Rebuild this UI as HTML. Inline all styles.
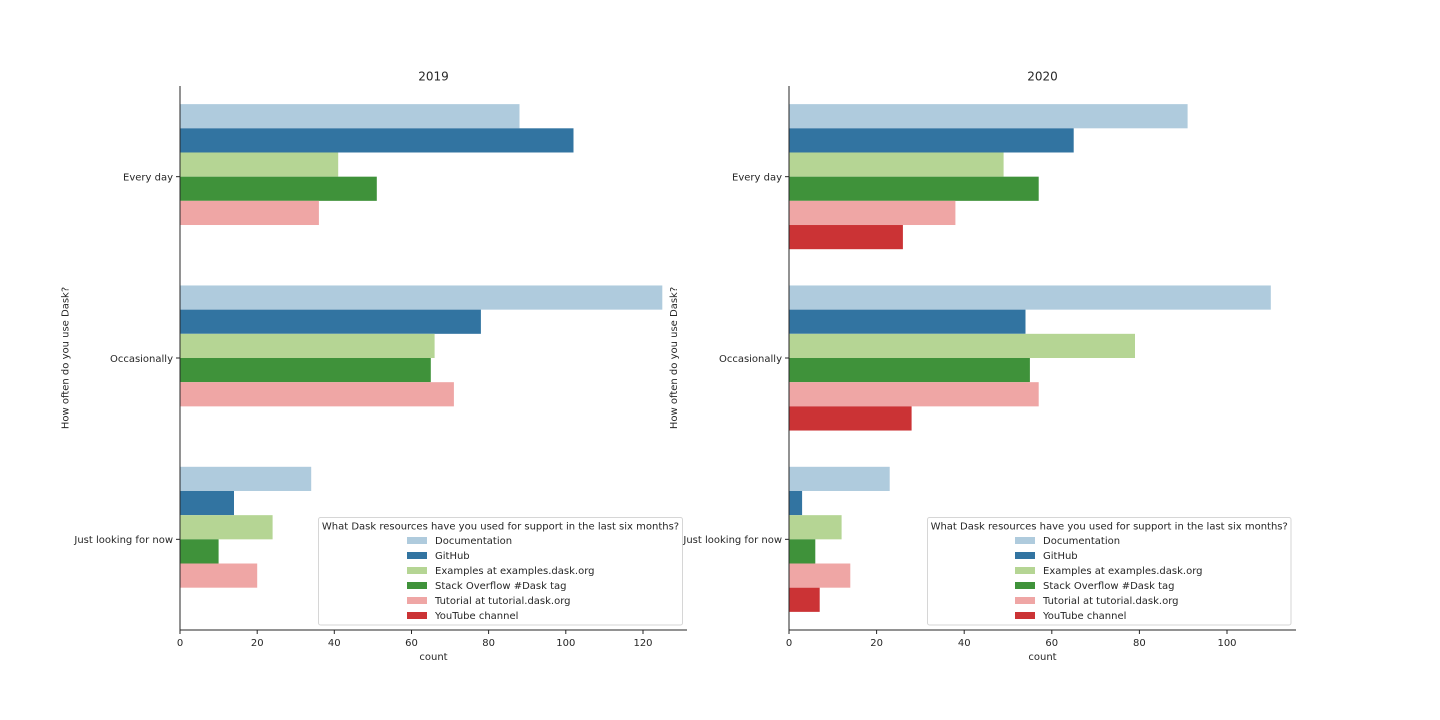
<!DOCTYPE html>
<html><head><meta charset="utf-8"><style>
html,body{margin:0;padding:0;background:#fff;}
svg{display:block;}
text{font-family:"DejaVu Sans","Liberation Sans",sans-serif;fill:#262626;}
</style></head><body>
<svg width="1440" height="720" viewBox="0 0 1440 720" xmlns="http://www.w3.org/2000/svg">
<rect width="1440" height="720" fill="#fff"/>
<!-- LEFT 2019 -->
<g>
<rect x="180" y="104.13" width="339.5" height="24.18" fill="#afcbdd"/>
<rect x="180" y="128.31" width="393.5" height="24.18" fill="#3274a1"/>
<rect x="180" y="152.49" width="158.2" height="24.18" fill="#b5d594"/>
<rect x="180" y="176.67" width="196.8" height="24.18" fill="#3f923a"/>
<rect x="180" y="200.84" width="138.9" height="24.18" fill="#efa6a5"/>

<rect x="180" y="285.47" width="482.3" height="24.18" fill="#afcbdd"/>
<rect x="180" y="309.64" width="300.9" height="24.18" fill="#3274a1"/>
<rect x="180" y="333.82" width="254.6" height="24.18" fill="#b5d594"/>
<rect x="180" y="358.00" width="250.8" height="24.18" fill="#3f923a"/>
<rect x="180" y="382.18" width="273.9" height="24.18" fill="#efa6a5"/>

<rect x="180" y="466.80" width="131.2" height="24.18" fill="#afcbdd"/>
<rect x="180" y="490.98" width="54.0" height="24.18" fill="#3274a1"/>
<rect x="180" y="515.16" width="92.6" height="24.18" fill="#b5d594"/>
<rect x="180" y="539.33" width="38.6" height="24.18" fill="#3f923a"/>
<rect x="180" y="563.51" width="77.2" height="24.18" fill="#efa6a5"/>

<line x1="180" y1="86" x2="180" y2="630.5" stroke="#262626" stroke-width="1"/>
<line x1="179.5" y1="630" x2="687" y2="630" stroke="#262626" stroke-width="1"/>
<g stroke="#262626" stroke-width="1">
<line x1="180" y1="630" x2="180" y2="634"/>
<line x1="257.2" y1="630" x2="257.2" y2="634"/>
<line x1="334.3" y1="630" x2="334.3" y2="634"/>
<line x1="411.5" y1="630" x2="411.5" y2="634"/>
<line x1="488.6" y1="630" x2="488.6" y2="634"/>
<line x1="565.8" y1="630" x2="565.8" y2="634"/>
<line x1="643" y1="630" x2="643" y2="634"/>
<line x1="176" y1="176.67" x2="180" y2="176.67"/>
<line x1="176" y1="358" x2="180" y2="358"/>
<line x1="176" y1="539.33" x2="180" y2="539.33"/>
</g>
<g font-size="10" text-anchor="middle">
<text x="180" y="646">0</text>
<text x="257.2" y="646">20</text>
<text x="334.3" y="646">40</text>
<text x="411.5" y="646">60</text>
<text x="488.6" y="646">80</text>
<text x="565.8" y="646">100</text>
<text x="643" y="646">120</text>
<text x="433.5" y="660">count</text>
</g>
<g font-size="10" text-anchor="end">
<text x="173" y="180.5">Every day</text>
<text x="173" y="361.8">Occasionally</text>
<text x="173" y="543.2">Just looking for now</text>
</g>
<text x="0" y="0" font-size="10" text-anchor="middle" transform="translate(68.5,358) rotate(-90)">How often do you use Dask?</text>
<text x="433.5" y="80.5" font-size="12" text-anchor="middle">2019</text>
<rect x="318.5" y="517.5" width="364" height="107.5" rx="2" fill="#fff" fill-opacity="0.8" stroke="#d6d6d6" stroke-width="1"/>
<text x="500.5" y="529.5" font-size="10" text-anchor="middle">What Dask resources have you used for support in the last six months?</text>
<rect x="407" y="537" width="20" height="7" fill="#afcbdd"/>
<rect x="407" y="552" width="20" height="7" fill="#3274a1"/>
<rect x="407" y="567" width="20" height="7" fill="#b5d594"/>
<rect x="407" y="582" width="20" height="7" fill="#3f923a"/>
<rect x="407" y="597" width="20" height="7" fill="#efa6a5"/>
<rect x="407" y="612" width="20" height="7" fill="#cb3335"/>
<g font-size="10">
<text x="435" y="544">Documentation</text>
<text x="435" y="559">GitHub</text>
<text x="435" y="574">Examples at examples.dask.org</text>
<text x="435" y="589">Stack Overflow #Dask tag</text>
<text x="435" y="604">Tutorial at tutorial.dask.org</text>
<text x="435" y="619">YouTube channel</text>
</g>
</g>

<!-- RIGHT 2020 -->
<g>
<rect x="789" y="104.13" width="398.6" height="24.18" fill="#afcbdd"/>
<rect x="789" y="128.31" width="284.7" height="24.18" fill="#3274a1"/>
<rect x="789" y="152.49" width="214.6" height="24.18" fill="#b5d594"/>
<rect x="789" y="176.67" width="249.7" height="24.18" fill="#3f923a"/>
<rect x="789" y="200.84" width="166.4" height="24.18" fill="#efa6a5"/>
<rect x="789" y="225.02" width="113.9" height="24.18" fill="#cb3335"/>

<rect x="789" y="285.47" width="481.8" height="24.18" fill="#afcbdd"/>
<rect x="789" y="309.64" width="236.5" height="24.18" fill="#3274a1"/>
<rect x="789" y="333.82" width="346.0" height="24.18" fill="#b5d594"/>
<rect x="789" y="358.00" width="240.9" height="24.18" fill="#3f923a"/>
<rect x="789" y="382.18" width="249.7" height="24.18" fill="#efa6a5"/>
<rect x="789" y="406.36" width="122.6" height="24.18" fill="#cb3335"/>

<rect x="789" y="466.80" width="100.7" height="24.18" fill="#afcbdd"/>
<rect x="789" y="490.98" width="13.1" height="24.18" fill="#3274a1"/>
<rect x="789" y="515.16" width="52.6" height="24.18" fill="#b5d594"/>
<rect x="789" y="539.33" width="26.3" height="24.18" fill="#3f923a"/>
<rect x="789" y="563.51" width="61.3" height="24.18" fill="#efa6a5"/>
<rect x="789" y="587.69" width="30.7" height="24.18" fill="#cb3335"/>

<line x1="789" y1="86" x2="789" y2="630.5" stroke="#262626" stroke-width="1"/>
<line x1="788.5" y1="630" x2="1296" y2="630" stroke="#262626" stroke-width="1"/>
<g stroke="#262626" stroke-width="1">
<line x1="789" y1="630" x2="789" y2="634"/>
<line x1="876.6" y1="630" x2="876.6" y2="634"/>
<line x1="964.2" y1="630" x2="964.2" y2="634"/>
<line x1="1051.8" y1="630" x2="1051.8" y2="634"/>
<line x1="1139.4" y1="630" x2="1139.4" y2="634"/>
<line x1="1227" y1="630" x2="1227" y2="634"/>
<line x1="785" y1="176.67" x2="789" y2="176.67"/>
<line x1="785" y1="358" x2="789" y2="358"/>
<line x1="785" y1="539.33" x2="789" y2="539.33"/>
</g>
<g font-size="10" text-anchor="middle">
<text x="789" y="646">0</text>
<text x="876.6" y="646">20</text>
<text x="964.2" y="646">40</text>
<text x="1051.8" y="646">60</text>
<text x="1139.4" y="646">80</text>
<text x="1227" y="646">100</text>
<text x="1042.5" y="660">count</text>
</g>
<g font-size="10" text-anchor="end">
<text x="782" y="180.5">Every day</text>
<text x="782" y="361.8">Occasionally</text>
<text x="782" y="543.2">Just looking for now</text>
</g>
<text x="0" y="0" font-size="10" text-anchor="middle" transform="translate(677,358) rotate(-90)">How often do you use Dask?</text>
<text x="1042.5" y="80.5" font-size="12" text-anchor="middle">2020</text>
<rect x="927.5" y="517.5" width="363.5" height="107.5" rx="2" fill="#fff" fill-opacity="0.8" stroke="#d6d6d6" stroke-width="1"/>
<text x="1109.2" y="529.5" font-size="10" text-anchor="middle">What Dask resources have you used for support in the last six months?</text>
<rect x="1015" y="537" width="20" height="7" fill="#afcbdd"/>
<rect x="1015" y="552" width="20" height="7" fill="#3274a1"/>
<rect x="1015" y="567" width="20" height="7" fill="#b5d594"/>
<rect x="1015" y="582" width="20" height="7" fill="#3f923a"/>
<rect x="1015" y="597" width="20" height="7" fill="#efa6a5"/>
<rect x="1015" y="612" width="20" height="7" fill="#cb3335"/>
<g font-size="10">
<text x="1043" y="544">Documentation</text>
<text x="1043" y="559">GitHub</text>
<text x="1043" y="574">Examples at examples.dask.org</text>
<text x="1043" y="589">Stack Overflow #Dask tag</text>
<text x="1043" y="604">Tutorial at tutorial.dask.org</text>
<text x="1043" y="619">YouTube channel</text>
</g>
</g>
</svg>
</body></html>
